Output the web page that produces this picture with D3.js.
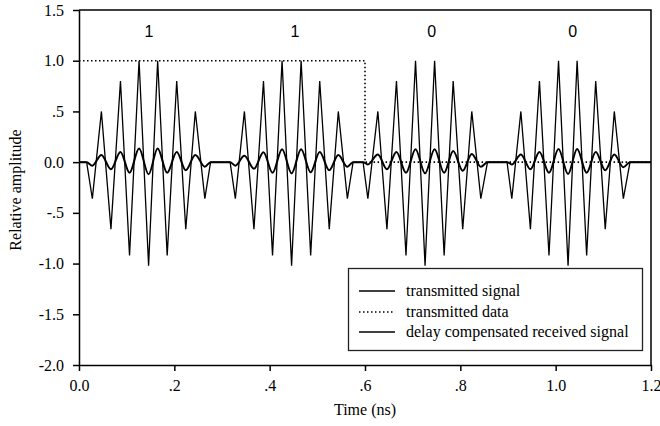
<!DOCTYPE html>
<html>
<head>
<meta charset="utf-8">
<script src="https://cdn.jsdelivr.net/npm/d3@7"></script>
<style>
  body { margin: 0; background: #fff; }
  svg { display: block; }
  .serif, .serif text { font-family: "Liberation Serif", "Times New Roman", "DejaVu Serif", serif !important; }
  .sans { font-family: "Liberation Sans", Arial, sans-serif; }
</style>
</head>
<body>
<svg id="chart" width="660" height="426"></svg>
<script>
// sample times (ns), shared by the transmitted and the received signal
var sigTime = [0.000,
  0.016, 0.028, 0.047, 0.067, 0.087, 0.106, 0.126, 0.146, 0.165, 0.185, 0.205, 0.224, 0.244, 0.264, 0.276,
  0.317, 0.328, 0.347, 0.367, 0.387, 0.406, 0.426, 0.446, 0.466, 0.486, 0.505, 0.525, 0.544, 0.563, 0.575,
  0.596, 0.606, 0.627, 0.646, 0.666, 0.686, 0.706, 0.726, 0.746, 0.766, 0.785, 0.805, 0.824, 0.843, 0.857,
  0.898, 0.908, 0.927, 0.947, 0.966, 0.986, 1.006, 1.026, 1.045, 1.065, 1.084, 1.104, 1.123, 1.142, 1.156,
  1.200];

var txSignal = [0,
  0, -0.36, 0.50, -0.66, 0.80, -0.92, 1.00, -1.02, 1.00, -0.92, 0.80, -0.66, 0.50, -0.36, 0,
  0, -0.36, 0.50, -0.66, 0.80, -0.92, 1.00, -1.02, 1.00, -0.92, 0.80, -0.66, 0.50, -0.36, 0,
  0, -0.36, 0.50, -0.66, 0.80, -0.92, 1.00, -1.02, 1.00, -0.92, 0.80, -0.66, 0.50, -0.36, 0,
  0, -0.36, 0.50, -0.66, 0.80, -0.92, 1.00, -1.02, 1.00, -0.92, 0.80, -0.66, 0.50, -0.36, 0,
  0];

var rxSignal = [0,
  0, -0.035, 0.070, -0.070, 0.100, -0.105, 0.135, -0.120, 0.135, -0.105, 0.100, -0.080, 0.070, -0.045, 0,
  0, -0.035, 0.062, -0.065, 0.097, -0.105, 0.128, -0.110, 0.128, -0.100, 0.100, -0.080, 0.070, -0.046, 0,
  0, -0.023, 0.076, -0.070, 0.100, -0.105, 0.128, -0.110, 0.128, -0.105, 0.110, -0.085, 0.080, -0.046, 0,
  0, -0.023, 0.076, -0.070, 0.100, -0.105, 0.130, -0.118, 0.130, -0.105, 0.100, -0.080, 0.076, -0.050, 0,
  0];

// transmitted data (bits 1 1 0 0)
var dataTime = [0, 0.6, 0.6, 1.2];
var dataValue = [1, 1, 0, 0];

var bitLabels = ["1", "1", "0", "0"];
var bitTime = [0.147, 0.453, 0.740, 1.036];
var bitLevel = 1.29;

var xTicks = [0, 0.2, 0.4, 0.6, 0.8, 1.0, 1.2];
var xTickLabels = ["0.0", ".2", ".4", ".6", ".8", "1.0", "1.2"];
var yTicks = [-2, -1.5, -1, -0.5, 0, 0.5, 1, 1.5];
var yTickLabels = ["-2.0", "-1.5", "-1.0", "-.5", "0.0", ".5", "1.0", "1.5"];

var legendNames = ["transmitted signal", "transmitted data", "delay compensated received signal"];

var svg = d3.select("#chart");

var x = d3.scaleLinear().domain([0, 1.2]).range([79, 651]);
var y = d3.scaleLinear().domain([-2, 1.5]).range([365, 10]);

// frame top & right
svg.append("path")
    .attr("d", "M" + x(0) + "," + y(1.5) + "H" + x(1.2) + "V" + y(-2))
    .attr("fill", "none").attr("stroke", "#000").attr("stroke-width", 1.5);

var xAxis = svg.append("g")
    .attr("transform", "translate(0," + y(-2) + ")")
    .call(d3.axisBottom(x).tickValues(xTicks)
        .tickFormat(function (d, i) { return xTickLabels[i]; })
        .tickSize(6).tickSizeOuter(0).tickPadding(9));

var yAxis = svg.append("g")
    .attr("transform", "translate(" + x(0) + ",0)")
    .call(d3.axisLeft(y).tickValues(yTicks)
        .tickFormat(function (d, i) { return yTickLabels[i]; })
        .tickSize(6).tickSizeOuter(0).tickPadding(9));

[xAxis, yAxis].forEach(function (g) {
    g.attr("font-family", null).attr("font-size", null);
    g.selectAll("path, line").attr("stroke", "#000").attr("stroke-width", 1.5);
    g.selectAll("text")
        .attr("class", "serif")
        .style("font-family", "'Liberation Serif', 'Times New Roman', serif")
        .style("font-size", "16px").attr("fill", "#000");
});

var pts = sigTime.map(function (t, i) { return {t: t, tx: txSignal[i], rx: rxSignal[i]}; });
var dpts = dataTime.map(function (t, i) { return {t: t, v: dataValue[i]}; });

var txLine = d3.line().x(function (d) { return x(d.t); }).y(function (d) { return y(d.tx); });
var rxLine = d3.line().curve(d3.curveMonotoneX)
    .x(function (d) { return x(d.t); }).y(function (d) { return y(d.rx); });
var dLine = d3.line().x(function (d) { return x(d.t); }).y(function (d) { return y(d.v); });

svg.append("path").datum(dpts).attr("d", dLine)
    .attr("fill", "none").attr("stroke", "#000").attr("stroke-width", 1.6)
    .attr("stroke-dasharray", "1.5,2.5");

svg.append("path").datum(pts).attr("d", txLine)
    .attr("fill", "none").attr("stroke", "#000").attr("stroke-width", 1.3);

svg.append("path").datum(pts).attr("d", rxLine)
    .attr("fill", "none").attr("stroke", "#000").attr("stroke-width", 2);

// bit labels
svg.selectAll(".bit").data(bitLabels).enter().append("text")
    .attr("class", "bit sans")
    .attr("x", function (d, i) { return x(bitTime[i]); })
    .attr("y", y(bitLevel))
    .attr("dy", "0.35em")
    .attr("text-anchor", "middle")
    .style("font-size", "16px")
    .text(function (d) { return d; });

// axis titles
svg.append("text")
    .attr("class", "serif")
    .attr("x", 365).attr("y", 415)
    .attr("text-anchor", "middle")
    .style("font-size", "16px")
    .text("Time (ns)");

svg.append("text")
    .attr("class", "serif")
    .attr("transform", "translate(21,190) rotate(-90)")
    .attr("text-anchor", "middle")
    .style("font-size", "16px")
    .text("Relative amplitude");

// legend
var legend = svg.append("g");
legend.append("rect")
    .attr("x", 348.5).attr("y", 268.5).attr("width", 294).attr("height", 82)
    .attr("fill", "#fff").attr("stroke", "#222").attr("stroke-width", 1.3);

var rowY = [291, 312, 332];
legendNames.forEach(function (name, i) {
    legend.append("line")
        .attr("x1", 359).attr("x2", 395).attr("y1", rowY[i]).attr("y2", rowY[i])
        .attr("stroke", "#000").attr("stroke-width", 1.3)
        .attr("stroke-dasharray", i === 1 ? "1.5,2.5" : null);
    legend.append("text")
        .attr("class", "serif")
        .attr("x", 406).attr("y", rowY[i]).attr("dy", "0.32em")
        .style("font-size", "16px")
        .text(name);
});
</script>
</body>
</html>
